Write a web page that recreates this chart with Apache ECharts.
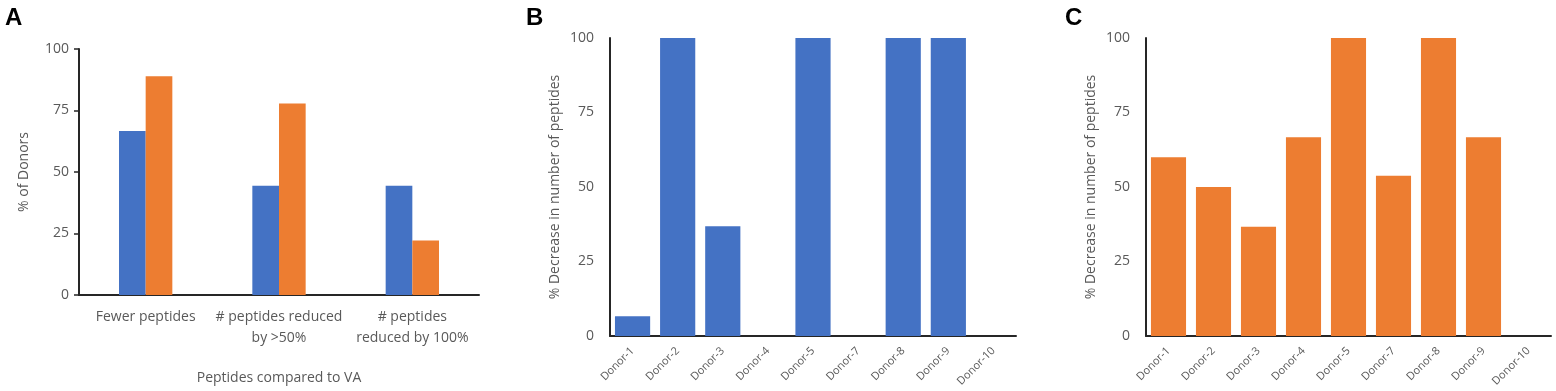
<!DOCTYPE html>
<html><head><meta charset="utf-8">
<script src="https://cdn.jsdelivr.net/npm/echarts@6/dist/echarts.min.js"></script>
<style>html,body{margin:0;padding:0;background:#fff}#c{width:1556px;height:391px}</style>
</head><body><div id="c"></div>
<script>
const catsA = ['Fewer peptides', '# peptides reduced\nby >50%', '# peptides\nreduced by 100%'];
const blueA = [66.7, 44.4, 44.4];
const orangeA = [88.9, 77.8, 22.2];
const donors = ['Donor-1','Donor-2','Donor-3','Donor-4','Donor-5','Donor-7','Donor-8','Donor-9','Donor-10'];
const valsB = [6.6, 100, 36.8, 0, 100, 0, 100, 100, 0];
const valsC = [60, 50, 36.7, 66.7, 100, 53.8, 100, 66.7, 0];
const yTicks = [0, 25, 50, 75, 100];

const BLUE = '#4472C4', ORANGE = '#ED7D31', TXT = '#595959', AX = '#262626';
const FONT = '"Open Sans", "Noto Sans", sans-serif';

function yAxis(gi, name, ticks) {
  return {
    type: 'value', gridIndex: gi, min: yTicks[0], max: yTicks[yTicks.length-1], interval: 25,
    name: name, nameLocation: 'middle', nameGap: 48,
    nameTextStyle: {color: TXT, fontSize: 14, fontFamily: FONT},
    axisLine: {show: true, lineStyle: {color: AX, width: 2}},
    axisTick: {show: ticks, length: 5, lineStyle: {color: AX, width: 1.5}},
    axisLabel: {color: TXT, fontSize: 14, fontFamily: FONT, margin: ticks ? 10 : 16},
    splitLine: {show: false}
  };
}
function xDonor(gi) {
  return {
    type: 'category', gridIndex: gi, data: donors,
    axisLine: {lineStyle: {color: AX, width: 2}},
    axisTick: {show: false},
    axisLabel: {color: TXT, fontSize: 11, fontFamily: FONT, rotate: 45, interval: 0, margin: 13}
  };
}
const chart = echarts.init(document.getElementById('c'), null, {renderer: 'canvas'});
chart.setOption({
  animation: false,
  title: [
    {text: 'A', left: 0, top: 1, textStyle: {fontSize: 24, fontWeight: 'bold', color: '#000', fontFamily: 'Liberation Sans, Arial'}},
    {text: 'B', left: 521, top: 1, textStyle: {fontSize: 24, fontWeight: 'bold', color: '#000', fontFamily: 'Liberation Sans, Arial'}},
    {text: 'C', left: 1060, top: 1, textStyle: {fontSize: 24, fontWeight: 'bold', color: '#000', fontFamily: 'Liberation Sans, Arial'}}
  ],
  grid: [
    {left: 79, top: 49, width: 400, height: 246},
    {left: 610, top: 38, width: 406, height: 298},
    {left: 1146, top: 38, width: 405, height: 298}
  ],
  xAxis: [
    {type: 'category', gridIndex: 0, data: catsA,
     name: 'Peptides compared to VA', nameLocation: 'middle', nameGap: 76,
     nameTextStyle: {color: TXT, fontSize: 14, fontFamily: FONT},
     axisLine: {lineStyle: {color: AX, width: 2}}, axisTick: {show: false},
     axisLabel: {color: TXT, fontSize: 14, fontFamily: FONT, interval: 0, margin: 12, lineHeight: 21}},
    xDonor(1), xDonor(2)
  ],
  yAxis: [yAxis(0, '% of Donors', true), yAxis(1, '% Decrease in number of peptides', false), yAxis(2, '% Decrease in number of peptides', false)],
  series: [
    {type: 'bar', xAxisIndex: 0, yAxisIndex: 0, data: blueA, itemStyle: {color: BLUE}, barGap: '0%', barCategoryGap: '60%'},
    {type: 'bar', xAxisIndex: 0, yAxisIndex: 0, data: orangeA, itemStyle: {color: ORANGE}, barGap: '0%', barCategoryGap: '60%'},
    {type: 'bar', xAxisIndex: 1, yAxisIndex: 1, data: valsB, itemStyle: {color: BLUE}, barCategoryGap: '22%'},
    {type: 'bar', xAxisIndex: 2, yAxisIndex: 2, data: valsC, itemStyle: {color: ORANGE}, barCategoryGap: '22%'}
  ]
});
</script></body></html>
